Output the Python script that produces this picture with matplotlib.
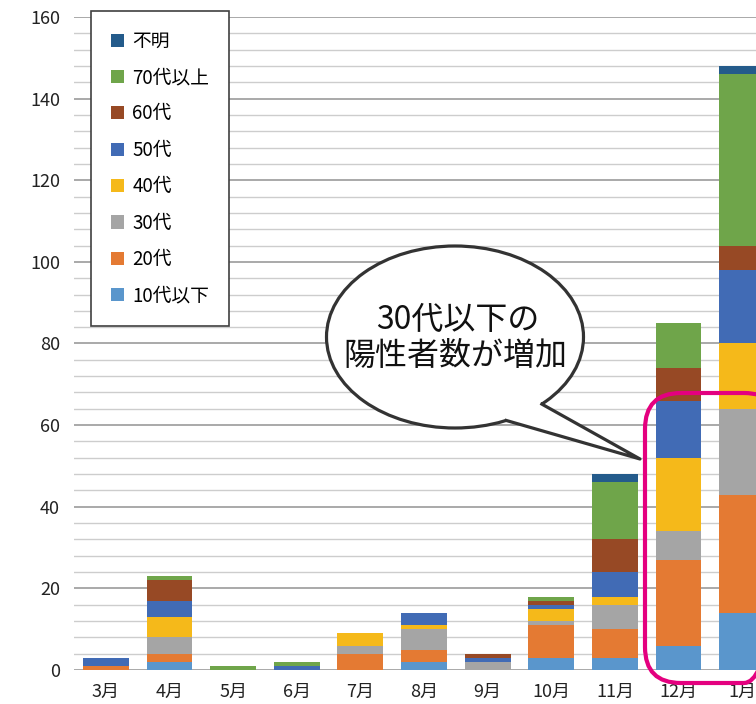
import matplotlib
matplotlib.use("Agg")
import matplotlib.pyplot as plt
from matplotlib.patches import Ellipse, Polygon, FancyBboxPatch
from matplotlib.ticker import MultipleLocator
import numpy as np

plt.rcParams['font.family'] = ['Noto Sans CJK JP', 'DejaVu Sans']

# 月ごとの年代別陽性者数
months = ['3月', '4月', '5月', '6月', '7月', '8月', '9月', '10月', '11月', '12月', '1月']
age_u10 = [0, 2, 0, 0, 0, 2, 0, 3, 3, 6, 14]
age_20 = [1, 2, 0, 0, 4, 3, 0, 8, 7, 21, 29]
age_30 = [0, 4, 0, 0, 2, 5, 2, 1, 6, 7, 21]
age_40 = [0, 5, 0, 0, 3, 1, 0, 3, 2, 18, 16]
age_50 = [2, 4, 0, 1, 0, 3, 1, 1, 6, 14, 18]
age_60 = [0, 5, 0, 0, 0, 0, 1, 1, 8, 8, 6]
age_70 = [0, 1, 1, 1, 0, 0, 0, 1, 14, 11, 42]
unknown = [0, 0, 0, 0, 0, 0, 0, 0, 2, 0, 2]

series = [
    ('10代以下', age_u10, '#5A96CC'),
    ('20代', age_20, '#E47A33'),
    ('30代', age_30, '#A5A5A5'),
    ('40代', age_40, '#F5B91A'),
    ('50代', age_50, '#416BB5'),
    ('60代', age_60, '#974925'),
    ('70代以上', age_70, '#6FA54A'),
    ('不明', unknown, '#245B8B'),
]

W, H = 756, 704
fig = plt.figure(figsize=(W / 100, H / 100), dpi=100)
fig.patch.set_facecolor('white')

# plot area (pixel measured), right side runs off the picture
left, right, top, bottom = 74, 774, 17, 670
ax = fig.add_axes([left / W, (H - bottom) / H, (right - left) / W, (bottom - top) / H])

x = np.arange(len(months))
base = np.zeros(len(months))
handles = []
for name, vals, col in series:
    b = ax.bar(x, vals, bottom=base, width=0.72, color=col, linewidth=0, label=name, zorder=3)
    handles.append(b)
    base += np.array(vals)

ax.set_xlim(-0.5, len(months) - 0.5)
ax.set_ylim(0, 160)
ax.yaxis.set_major_locator(MultipleLocator(20))
ax.yaxis.set_minor_locator(MultipleLocator(4))
ax.grid(which='minor', axis='y', color='#cdcdcd', lw=1.0, zorder=0)
ax.grid(which='major', axis='y', color='#a9a9a9', lw=1.4, zorder=0)
ax.set_axisbelow(True)
for s in ax.spines.values():
    s.set_visible(False)
ax.set_xticks(x)
ax.set_xticklabels(months)
ax.tick_params(axis='both', which='both', length=0, labelsize=13, colors='#222222')
ax.tick_params(axis='y', pad=10)
ax.tick_params(axis='x', pad=9)

leg = ax.legend(handles[::-1], [s[0] for s in series][::-1],
                loc='upper left', bbox_to_anchor=(91 / W, 1 - 11 / H),
                bbox_transform=fig.transFigure, fontsize=13.5,
                frameon=True, fancybox=False, framealpha=1,
                edgecolor='#404040', borderpad=1.05, labelspacing=0.82,
                handlelength=0.7, handleheight=0.7, handletextpad=0.45,
                borderaxespad=0)
leg.get_frame().set_linewidth(1.2)
leg.set_zorder(10)

# overlay in pixel coordinates for the callout and the highlight box
ov = fig.add_axes([0, 0, 1, 1], zorder=20)
ov.set_xlim(0, W)
ov.set_ylim(H, 0)
ov.axis('off')
ov.patch.set_alpha(0)

cx, cy, a, b = 455, 337, 128.5, 91
edge = '#333333'
ov.add_patch(Ellipse((cx, cy), 2 * a, 2 * b, facecolor='white', edgecolor=edge, lw=2.3, zorder=1))
t1, t2 = np.radians(66.5), np.radians(47.5)
p1 = (cx + a * np.cos(t1), cy + b * np.sin(t1))
p2 = (cx + a * np.cos(t2), cy + b * np.sin(t2))
tip = (640, 459)
q1 = (cx + (a - 6) * np.cos(t1), cy + (b - 6) * np.sin(t1))
q2 = (cx + (a - 6) * np.cos(t2), cy + (b - 6) * np.sin(t2))
ov.add_patch(Polygon([q1, p1, tip, p2, q2], closed=True, facecolor='white', edgecolor='none', zorder=2))
ov.plot([p1[0], tip[0], p2[0]], [p1[1], tip[1], p2[1]], color=edge, lw=2.3,
        solid_joinstyle='round', zorder=3)
ov.text(458, 320, '30代以下の', fontsize=23, ha='center', va='center', color='#111111', zorder=4)
ov.text(455, 356, '陽性者数が増加', fontsize=23, ha='center', va='center', color='#111111', zorder=4)

ov.add_patch(FancyBboxPatch((645, 393), 135, 290, boxstyle='round,pad=0,rounding_size=36',
                            facecolor='none', edgecolor='#E4007F', lw=3, zorder=5))

fig.savefig('out.png', dpi=100)
